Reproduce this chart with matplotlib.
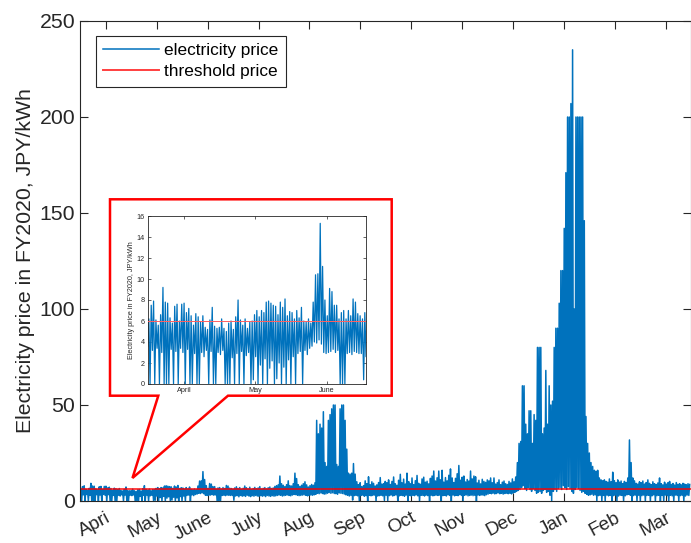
import numpy as np
import matplotlib.pyplot as plt
from matplotlib.patches import Polygon

plt.rcParams['font.family'] = ['Liberation Sans', 'DejaVu Sans']

# daily peak and trough of the spot price, JPY/kWh, FY2020 (Apr 1 2020 - Mar 31 2021)
apr_high = [6.2, 7.5, 7.9, 6.1, 5.6, 6.6, 9.2, 7.8, 7.7, 6.3, 5.8, 7.4, 7.6, 6.0, 7.6,
            7.7, 6.8, 7.2, 6.5, 5.6, 6.7, 6.4, 5.9, 6.5, 5.4, 5.2, 6.1, 7.3, 5.5, 5.3]
apr_low = [3.6, 0.0, 3.2, 0.0, 3.4, 0.0, 3.0, 0.0, 0.0, 0.0, 3.3, 0.0, 3.1, 0.0, 3.4,
           3.0, 0.0, 3.3, 0.0, 0.0, 2.9, 0.0, 0.0, 3.0, 2.6, 3.2, 0.0, 3.1, 0.0, 0.0]
may_high = [5.4, 6.2, 5.3, 5.0, 5.8, 6.0, 5.2, 6.4, 8.0, 6.1, 5.6, 6.2, 5.3, 5.9, 6.0, 6.6,
            7.0, 6.4, 7.0, 6.8, 7.8, 7.9, 7.7, 7.5, 7.4, 6.6, 7.8, 7.3, 8.1, 6.5, 6.9]
may_low = [3.0, 2.8, 3.2, 0.0, 0.0, 0.0, 2.5, 0.0, 2.9, 0.0, 3.1, 0.0, 2.7, 3.0, 0.0, 0.4,
           2.6, 0.0, 1.8, 0.0, 2.4, 0.0, 1.5, 2.2, 0.0, 0.5, 2.0, 0.0, 1.6, 0.0, 2.3]
jun_high = [6.8, 6.2, 7.0, 6.3, 7.3, 6.0, 5.9, 6.2, 5.8, 7.8, 10.4, 10.5, 15.3, 11.2, 8.0,
            6.5, 9.1, 8.8, 7.5, 7.5, 6.2, 6.8, 7.0, 6.2, 7.0, 6.5, 8.1, 7.8, 6.7, 6.5]
jun_low = [0.0, 2.6, 0.0, 2.9, 3.1, 0.0, 3.2, 2.8, 3.4, 3.6, 4.0, 3.9, 4.2, 3.8, 3.0,
           2.9, 3.0, 3.1, 3.3, 3.0, 3.2, 0.0, 0.0, 0.0, 2.9, 3.0, 2.8, 3.1, 3.0, 2.9]
jul_high = [6.2, 6.8, 7.4, 6.5, 7.0, 6.1, 6.6, 7.8, 6.9, 6.3, 7.2, 6.0, 6.5, 7.1, 6.4, 6.8,
            7.5, 6.2, 6.6, 7.0, 6.3, 6.9, 7.3, 6.5, 6.8, 7.6, 8.0, 8.4, 13.0, 9.0, 8.2]
jul_low = [2.9, 0.4, 2.6, 2.8, 2.2, 2.9, 2.5, 2.7, 2.4, 3.0, 2.6, 2.3, 2.8, 2.5, 2.9, 2.6,
           2.4, 2.8, 2.5, 2.7, 2.3, 2.9, 2.6, 2.4, 2.8, 2.5, 2.7, 2.9, 3.1, 3.0, 2.6]
aug_high = [7.5, 8.5, 10.5, 8.0, 7.8, 9.0, 14.5, 11.7, 8.5, 7.6, 8.2, 9.0, 10.0, 8.4, 7.3, 8.0,
            8.6, 8.2, 9.5, 42.0, 35.0, 40.0, 38.0, 46.5, 20.0, 18.0, 42.0, 45.0, 48.0, 50.0, 50.0]
aug_low = [2.8, 3.0, 3.2, 2.9, 2.7, 3.1, 3.4, 3.3, 3.0, 2.8, 2.9, 3.1, 3.2, 3.0, 2.7, 2.9,
           3.1, 3.0, 3.2, 3.5, 4.0, 3.8, 4.2, 3.9, 3.6, 3.7, 4.1, 4.4, 4.0, 4.3, 3.9]
sep_high = [19.0, 18.0, 48.0, 50.0, 50.0, 42.0, 27.0, 14.5, 14.0, 14.5, 19.5, 14.0, 10.0, 8.5, 9.5,
            7.5, 8.0, 10.5, 9.0, 12.6, 8.5, 10.0, 9.2, 7.8, 8.4, 9.6, 12.2, 8.8, 9.0, 10.2]
sep_low = [3.8, 3.5, 4.2, 4.0, 3.9, 3.6, 3.2, 3.0, 2.6, 2.9, 0.5, 2.8, 3.0, 2.7, 0.0,
           2.9, 3.1, 2.5, 2.8, 0.0, 3.0, 2.7, 2.9, 3.1, 0.0, 2.6, 2.8, 3.0, 2.7, 0.3]
oct_high = [9.5, 11.0, 8.6, 10.2, 12.5, 9.0, 8.2, 10.8, 13.9, 9.5, 11.4, 8.8, 14.5, 10.1, 9.0, 12.0,
            8.5, 10.6, 13.3, 9.2, 8.7, 11.5, 12.4, 9.8, 10.3, 8.9, 11.8, 13.0, 15.6, 10.4, 12.1]
oct_low = [3.0, 0.2, 2.8, 3.1, 2.6, 2.9, 3.2, 0.0, 2.7, 3.0, 2.8, 2.5, 3.1, 0.0, 2.9, 2.6,
           3.0, 2.8, 3.2, 2.7, 0.0, 3.0, 2.9, 2.6, 3.1, 2.8, 0.0, 3.0, 2.7, 2.9, 3.1]
nov_high = [15.6, 11.0, 16.0, 9.8, 12.2, 10.5, 13.4, 16.7, 12.0, 9.6, 11.8, 14.2, 18.5, 10.8, 12.4,
            13.0, 9.9, 11.2, 10.4, 15.6, 11.5, 13.0, 12.6, 9.4, 10.8, 8.9, 11.3, 10.2, 9.7, 11.0]
nov_low = [2.9, 3.1, 0.0, 2.8, 3.0, 2.6, 3.2, 2.9, 0.0, 3.1, 2.7, 3.0, 2.8, 3.3, 2.9,
           0.0, 3.0, 3.2, 2.7, 2.9, 3.1, 2.8, 3.0, 0.0, 3.1, 2.9, 3.2, 3.0, 2.8, 3.3]
dec_high = [10.5, 12.0, 9.5, 12.0, 8.8, 9.6, 11.0, 8.5, 9.8, 10.4, 9.0, 8.6, 10.2, 9.4, 11.5, 10.0,
            12.5, 20.0, 30.0, 31.0, 60.0, 60.0, 40.0, 35.0, 47.0, 47.0, 30.0, 45.0, 42.0, 80.0, 80.0]
dec_low = [3.6, 4.0, 3.8, 4.1, 3.7, 3.9, 4.2, 3.8, 4.0, 3.6, 3.9, 4.1, 3.8, 4.0, 3.7, 4.2,
           4.5, 5.0, 5.5, 6.0, 7.0, 8.0, 6.5, 5.5, 7.0, 6.0, 5.0, 6.5, 5.5, 4.0, 4.5]
jan_high = [80.0, 35.0, 38.0, 68.0, 40.0, 60.0, 50.0, 52.0, 80.0, 90.0, 90.0, 103.0, 120.0, 120.0,
            142.0, 171.0, 200.0, 200.0, 207.0, 235.0, 100.0, 200.0, 200.0, 200.0, 200.0, 200.0,
            146.0, 44.0, 30.0, 25.0, 20.0]
jan_low = [5.0, 4.0, 5.5, 6.0, 4.5, 5.0, 3.0, 0.0, 5.0, 6.0, 5.0, 6.5, 7.0, 6.0, 8.0, 7.0,
           6.0, 7.5, 6.5, 5.0, 4.0, 6.0, 7.0, 6.5, 5.5, 4.5, 5.0, 4.0, 3.5, 3.0, 3.2]
feb_high = [18.0, 16.0, 15.5, 16.0, 12.0, 11.0, 10.5, 11.0, 10.2, 9.8, 11.5, 10.0, 15.0, 10.6,
            9.5, 11.0, 9.8, 10.4, 9.0, 10.2, 9.6, 12.0, 31.8, 20.0, 12.0, 10.5, 9.2, 8.8]
feb_low = [3.5, 3.0, 3.2, 0.0, 2.8, 3.0, 0.0, 2.9, 0.0, 3.1, 2.7, 3.0, 0.0, 2.8,
           3.1, 0.0, 2.6, 3.0, 2.9, 0.0, 2.7, 3.2, 3.5, 3.0, 0.0, 2.8, 3.1, 0.0]
mar_high = [10.0, 9.5, 10.4, 8.8, 9.6, 11.0, 9.2, 8.5, 10.0, 9.0, 8.6, 9.4, 12.0, 9.0, 8.4, 9.8,
            8.8, 9.5, 10.2, 8.6, 9.1, 8.3, 9.6, 8.7, 9.0, 8.4, 9.2, 8.8, 8.5, 9.0, 8.6]
mar_low = [3.0, 0.0, 2.8, 3.1, 0.0, 2.9, 3.0, 0.0, 2.7, 3.2, 0.0, 2.8, 3.0, 0.0, 2.9, 0.0,
           3.1, 2.8, 0.0, 3.0, 2.7, 0.0, 3.1, 2.9, 0.0, 2.8, 3.0, 0.0, 2.6, 3.1, 2.9]

threshold_price = 6.0
month_labels = ['Apri', 'May', 'June', 'July', 'Aug', 'Sep',
                'Oct', 'Nov', 'Dec', 'Jan', 'Feb', 'Mar']
inset_labels = ['April', 'May', 'June']

high = np.concatenate([apr_high, may_high, jun_high, jul_high, aug_high, sep_high,
                       oct_high, nov_high, dec_high, jan_high, feb_high, mar_high])
low = np.concatenate([apr_low, may_low, jun_low, jul_low, aug_low, sep_low,
                      oct_low, nov_low, dec_low, jan_low, feb_low, mar_low])
n_days = len(high)

# trace goes trough -> peak inside each day
t = np.empty(2 * n_days)
t[0::2] = np.arange(n_days)
t[1::2] = np.arange(n_days) + 0.5
price = np.empty(2 * n_days)
price[0::2] = low
price[1::2] = high

blue = '#0072BD'
dark = '#262626'
month_ticks = 15.5 + np.arange(12) * 365 / 12

W, H = 691, 543
fig = plt.figure(figsize=(W / 100, H / 100), dpi=100)
ax = fig.add_axes([80 / W, 42 / H, 610.5 / W, 480 / H])
ax.plot(t, price, color=blue, lw=1.1, label='electricity price')
ax.axhline(threshold_price, color='red', lw=1.4, alpha=0.75, label='threshold price')
ax.set_xlim(0, n_days)
ax.set_ylim(0, 250)
ax.set_yticks(np.arange(0, 251, 50))
ax.set_xticks(month_ticks)
ax.set_xticklabels(month_labels, rotation=28, ha='right', va='top',
                   rotation_mode='anchor', fontsize=13.6)
ax.tick_params(direction='in', length=6, width=0.8, top=True, right=True,
               colors=dark)
ax.tick_params(axis='x', pad=6)
ax.tick_params(axis='y', pad=3.5, labelsize=15.3)
for s in ax.spines.values():
    s.set_color(dark)
    s.set_linewidth(0.8)
ax.set_ylabel('Electricity price in FY2020, JPY/kWh', fontsize=15.3, color=dark, labelpad=3)

leg = ax.legend(loc='upper left', bbox_to_anchor=(0.0257, 0.9694), borderaxespad=0,
                fontsize=12.4, fancybox=False, edgecolor=dark, borderpad=0.45,
                handlelength=3.2, handletextpad=0.3, labelspacing=0.34)
leg.get_frame().set_linewidth(0.8)
leg.get_frame().set_alpha(1)
for txt in leg.get_texts():
    txt.set_color('black')

# callout frame around the zoomed view
pts = [(110, 199.3), (391.7, 199.3), (391.7, 395.7), (228, 395.7),
       (132.5, 478), (158.3, 395.7), (110, 395.7)]
callout = Polygon([(x / W, 1 - y / H) for x, y in pts], closed=True,
                  transform=fig.transFigure, facecolor='white', edgecolor='red',
                  lw=1.8, joinstyle='miter', clip_on=False, zorder=6)
ax.add_patch(callout)

# zoom on Apr-Jun
axi = fig.add_axes([147.7 / W, (H - 384) / H, 218.3 / W, 168 / H])
axi.plot(t, price, color=blue, lw=0.9, zorder=2)
axi.axhline(threshold_price, color='#ff6060', lw=0.7, zorder=3)
axi.set_xlim(0, 93)
axi.set_ylim(0, 16)
axi.set_yticks(np.arange(0, 17, 2))
axi.set_xticks(month_ticks[:3])
axi.set_xticklabels(inset_labels)
axi.tick_params(direction='in', length=2.5, width=0.5, top=True, right=True,
                labelsize=5.2, colors=dark, pad=2)
for s in axi.spines.values():
    s.set_color(dark)
    s.set_linewidth(0.6)
axi.set_ylabel('Electricity price in FY2020, JPY/kWh', fontsize=5.2, color=dark, labelpad=1)

fig.savefig('out.png', dpi=100)
